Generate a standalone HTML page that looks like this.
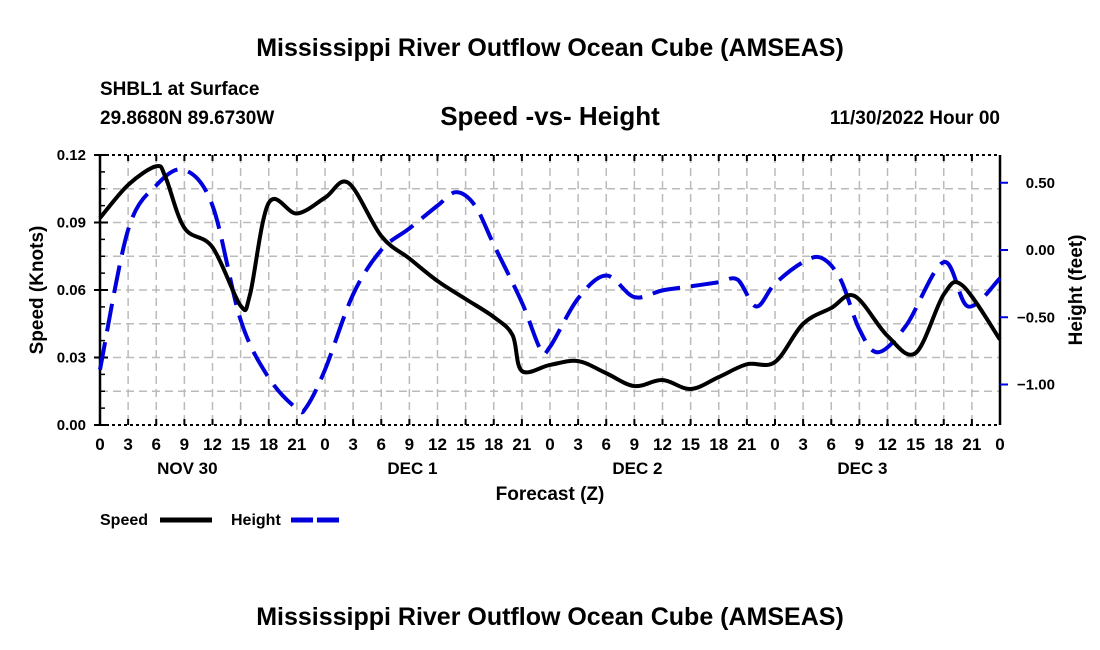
<!DOCTYPE html>
<html><head><meta charset="utf-8"><style>
body{margin:0;background:#fff;}
svg{display:block;font-family:"Liberation Sans",Arial,sans-serif;font-weight:bold;}
</style></head><body>
<svg id="chart" width="1100" height="650">
<text x="550" y="56" text-anchor="middle" font-size="25">Mississippi River Outflow Ocean Cube (AMSEAS)</text>
<text x="100" y="95" font-size="19">SHBL1 at Surface</text>
<text x="100" y="124" font-size="19">29.8680N  89.6730W</text>
<text x="550" y="125" text-anchor="middle" font-size="26">Speed -vs- Height</text>
<text x="1000" y="124" text-anchor="end" font-size="19">11/30/2022 Hour 00</text>
<g id="grid"></g><g id="axes"></g><g id="series"></g>
<text x="550" y="500" text-anchor="middle" font-size="19">Forecast (Z)</text>
<text transform="translate(43,290) rotate(-90)" text-anchor="middle" font-size="19">Speed (Knots)</text>
<text transform="translate(1082,290) rotate(-90)" text-anchor="middle" font-size="19">Height (feet)</text>
<g><text x="100" y="525" font-size="16">Speed</text><line x1="160" y1="520" x2="212" y2="520" stroke="#000" stroke-width="5"/></g>
<g><text x="231" y="525" font-size="16">Height</text><line x1="291" y1="520" x2="343" y2="520" stroke="#0000dd" stroke-width="5" stroke-dasharray="22,4"/></g>
<text x="550" y="625" text-anchor="middle" font-size="25">Mississippi River Outflow Ocean Cube (AMSEAS)</text>
</svg>
<script>
const speedHours=[0,3,6,7,9,12,15,16,18,21,24,26.5,30,33,36,39,42,44,45,48,51,54,57,60,63,66,69,72,75,78,80.5,84,87,90,92,96];
const speedValues=[0.092,0.1067,0.115,0.110,0.0876,0.079,0.053,0.058,0.0987,0.094,0.101,0.1076,0.084,0.074,0.064,0.056,0.048,0.040,0.024,0.0267,0.0284,0.023,0.0173,0.020,0.016,0.0213,0.027,0.028,0.045,0.052,0.0573,0.0396,0.032,0.058,0.062,0.038];
const heightHours=[0,3,6,9,12,15,18,21,22,24,27,30,33,36,38,40,42,45,47,48,51,54,57,60,63,66,68,70,72,75,77,79,81,83,86,90,92.6,96];
const heightValues=[-0.89,0.15,0.48,0.595,0.33,-0.52,-0.95,-1.18,-1.17,-0.89,-0.33,0,0.16,0.33,0.43,0.33,0.04,-0.39,-0.74,-0.72,-0.36,-0.19,-0.35,-0.30,-0.27,-0.24,-0.22,-0.42,-0.25,-0.09,-0.06,-0.22,-0.59,-0.76,-0.56,-0.09,-0.42,-0.21];
const xTickLabels=["0","3","6","9","12","15","18","21"];
const dayLabels=["NOV 30","DEC 1","DEC 2","DEC 3"];
const speedTicks=[0,0.03,0.06,0.09,0.12];
const heightTicks=[0.5,0,-0.5,-1.0];
const L=100,R=1000,T=155,B=425;
const xs=h=>L+h*(R-L)/96;
const ys=v=>B-v*(B-T)/0.12;
const yh=v=>250-v*134.5;
const NS="http://www.w3.org/2000/svg";
function mk(tag,attrs,parent){const e=document.createElementNS(NS,tag);for(const k in attrs)e.setAttribute(k,attrs[k]);parent.appendChild(e);return e;}
const grid=document.getElementById('grid'),axes=document.getElementById('axes'),series=document.getElementById('series');
for(let h=3;h<96;h+=3){const l=mk('line',{x1:xs(h),x2:xs(h),y1:T,y2:B,stroke:'#bbb','stroke-width':1.5,'stroke-dasharray':'8,5'},grid);

}
for(let v=0.015;v<0.12;v+=0.015){const l=mk('line',{x1:L,x2:R,y1:ys(v),y2:ys(v),stroke:'#bbb','stroke-width':1.5,'stroke-dasharray':'8,5'},grid);

}
mk('line',{x1:L,x2:R,y1:T,y2:T,stroke:'#000','stroke-width':2,'stroke-dasharray':'3,3'},axes);
mk('line',{x1:L,x2:R,y1:B,y2:B,stroke:'#000','stroke-width':2,'stroke-dasharray':'3,3'},axes);
mk('line',{x1:L,x2:L,y1:T,y2:B,stroke:'#000','stroke-width':2.5},axes);
mk('line',{x1:R,x2:R,y1:T,y2:B,stroke:'#000','stroke-width':2.5},axes);
for(let h=0;h<=96;h+=3){
 mk('line',{x1:xs(h),x2:xs(h),y1:B,y2:B-6,stroke:'#000','stroke-width':2},axes);
 mk('line',{x1:xs(h),x2:xs(h),y1:T,y2:T+6,stroke:'#000','stroke-width':2},axes);
 const t=mk('text',{x:xs(h),y:450,'text-anchor':'middle','font-size':17},axes);t.textContent=xTickLabels[(h/3)%8];
 
 
}
dayLabels.forEach((d,i)=>{const t=mk('text',{x:xs(9+24*i)+3,y:474,'text-anchor':'middle','font-size':17},axes);t.textContent=d;

});
for(let v=0;v<=0.12001;v+=0.0075){mk('line',{x1:L,x2:L+5,y1:ys(v),y2:ys(v),stroke:'#000','stroke-width':1.5},axes);}
speedTicks.forEach(v=>{mk('line',{x1:L-6,x2:L+8,y1:ys(v),y2:ys(v),stroke:'#000','stroke-width':2},axes);
const t=mk('text',{x:86,y:ys(v)+5,'text-anchor':'end','font-size':15},axes);t.textContent=v.toFixed(2);

});
heightTicks.forEach(v=>{mk('line',{x1:R,x2:R+8,y1:yh(v),y2:yh(v),stroke:'#0000dd','stroke-width':2},axes);
const t=mk('text',{x:1055,y:yh(v)+5,'text-anchor':'end','font-size':15},axes);t.textContent=(v<0?'\u2212':'')+Math.abs(v).toFixed(2);

});
function path(pts){let d='M'+pts[0][0]+','+pts[0][1];for(let i=0;i<pts.length-1;i++){const p0=pts[i-1]||pts[i],p1=pts[i],p2=pts[i+1],p3=pts[i+2]||p2;
d+=' C'+(p1[0]+(p2[0]-p0[0])/6)+','+(p1[1]+(p2[1]-p0[1])/6)+' '+(p2[0]-(p3[0]-p1[0])/6)+','+(p2[1]-(p3[1]-p1[1])/6)+' '+p2[0]+','+p2[1];}return d;}
const hp=mk('path',{d:path(heightHours.map((h,i)=>[xs(h),yh(heightValues[i])])),fill:'none',stroke:'#0000dd','stroke-width':4,'stroke-dasharray':'28,11'},series);


const sp=mk('path',{d:path(speedHours.map((h,i)=>[xs(h),ys(speedValues[i])])),fill:'none',stroke:'#000','stroke-width':4},series);


</script>
</body></html>
